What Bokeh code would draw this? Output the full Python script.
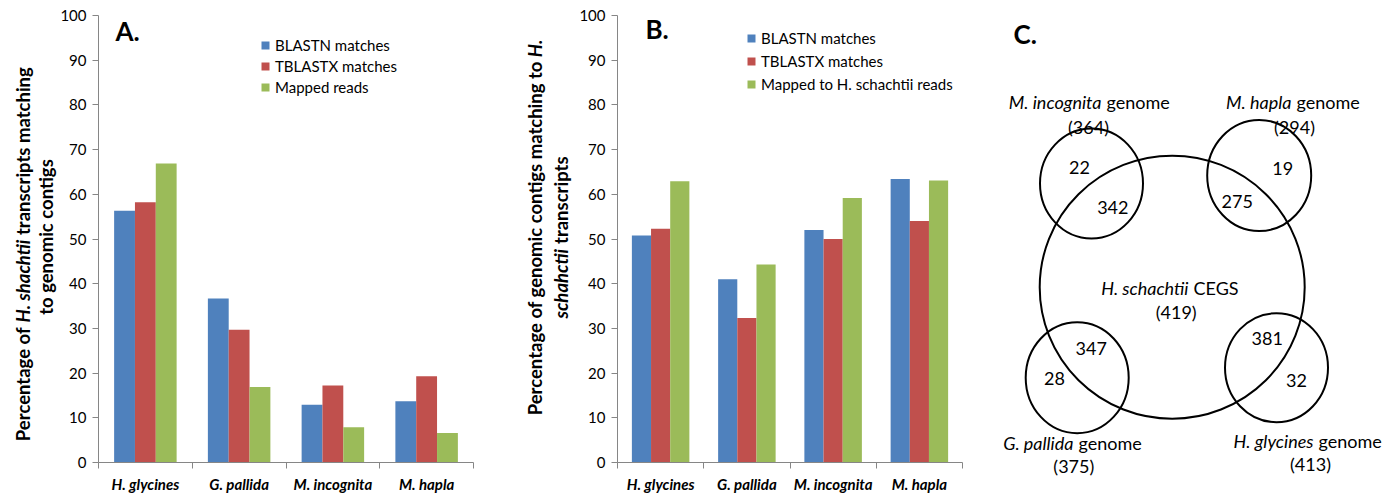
import math
from bokeh.plotting import figure
from bokeh.models import (ColumnDataSource, Range1d, FixedTicker, Label, LabelSet, Legend, LegendItem)
from bokeh.transform import dodge
from bokeh.layouts import row
from bokeh.embed import file_html
from bokeh.resources import INLINE
from bokeh.core.properties import value

# ---------------- data ----------------
categories = ["H. glycines", "G. pallida", "M. incognita", "M. hapla"]
series_names_a = ["BLASTN matches", "TBLASTX matches", "Mapped reads"]
series_names_b = ["BLASTN matches", "TBLASTX matches", "Mapped to H. schachtii reads"]
blastn_a = [56.3, 36.7, 12.9, 13.7]
tblastx_a = [58.2, 29.7, 17.2, 19.3]
mapped_a = [66.9, 16.9, 7.9, 6.6]
blastn_b = [50.8, 41.0, 52.0, 63.4]
tblastx_b = [52.3, 32.3, 50.0, 54.0]
mapped_b = [62.9, 44.3, 59.2, 63.1]
y_ticks = list(range(0, 101, 10))

venn_sets = ["M. incognita", "M. hapla", "G. pallida", "H. glycines"]
venn_set_totals = [364, 294, 375, 413]
venn_shared = [342, 275, 347, 381]
venn_unique = [22, 19, 28, 32]
venn_center_name = "H. schachtii"
venn_center_suffix = "CEGS"
venn_center_total = 419

# ---------------- style ----------------
FONT = "Lato"
COLORS = ["#4F81BD", "#C0504D", "#9BBB59"]
AXIS_GREY = "#868686"
H = 495
FRAME_TOP_REF = 15
FRAME_BOTTOM_REF = 465
V = math.pi / 2


def bar_panel(width, page_left_ref, frame_left_ref, frame_right_ref, series, names,
              legend_left_ref, legend_top_ref, legend_spacing):
    p = figure(width=width, height=H, output_backend="svg", toolbar_location=None, title=None,
               x_range=Range1d(0, len(categories)), y_range=Range1d(0, 100),
               min_border_left=frame_left_ref - page_left_ref,
               min_border_right=(page_left_ref + width) - frame_right_ref,
               min_border_top=FRAME_TOP_REF, min_border_bottom=H - FRAME_BOTTOM_REF)
    p.outline_line_color = None
    p.xgrid.visible = False
    p.ygrid.visible = False
    centers = [i + 0.5 for i in range(len(categories))]
    src = ColumnDataSource(dict(x=centers, s0=series[0], s1=series[1], s2=series[2]))
    bw = 1.0 / 4.5
    offsets = [-bw, 0.0, bw]
    items = []
    for k in range(3):
        r = p.vbar(x=dodge("x", offsets[k]), top="s%d" % k, bottom=0, width=bw, source=src,
                   fill_color=COLORS[k], line_color=None)
        items.append(LegendItem(label=names[k], renderers=[r]))

    item_h = 18
    leg_h = 3 * item_h + 2 * legend_spacing
    legend = Legend(items=items,
                    location=(legend_left_ref - frame_left_ref,
                              FRAME_BOTTOM_REF - legend_top_ref - leg_h),
                    padding=0, margin=0, spacing=legend_spacing,
                    glyph_width=10, glyph_height=10, label_standoff=5,
                    label_text_font=FONT, label_text_font_size="15px", label_text_color="black",
                    background_fill_alpha=0, border_line_color=None)
    p.add_layout(legend)

    # x axis: category labels at centres, separator ticks at boundaries
    xa = p.xaxis[0]
    xa.ticker = FixedTicker(ticks=centers, minor_ticks=list(range(len(categories) + 1)))
    xa.major_label_overrides = {c: n for c, n in zip(centers, categories)}
    xa.major_tick_out = 0
    xa.major_tick_in = 0
    xa.minor_tick_out = 6
    xa.minor_tick_in = 0
    xa.minor_tick_line_color = AXIS_GREY
    xa.axis_line_color = AXIS_GREY
    xa.major_label_text_font = FONT
    xa.major_label_text_font_size = "15px"
    xa.major_label_text_font_style = "bold italic"
    xa.major_label_text_color = "black"
    xa.major_label_standoff = 6

    ya = p.yaxis[0]
    ya.ticker = FixedTicker(ticks=y_ticks, minor_ticks=[])
    ya.major_tick_out = 6
    ya.major_tick_in = 0
    ya.major_tick_line_color = AXIS_GREY
    ya.axis_line_color = AXIS_GREY
    ya.major_label_text_font = FONT
    ya.major_label_text_font_size = "15px"
    ya.major_label_text_color = "black"
    ya.major_label_standoff = 6
    return p


def blank_panel(width, left_ref, top=FRAME_TOP_REF, bottom=FRAME_BOTTOM_REF):
    # 1 data unit = 1 px, data coordinates equal page pixel coordinates
    p = figure(width=width, height=H, output_backend="svg", toolbar_location=None, title=None,
               x_range=Range1d(left_ref, left_ref + width),
               y_range=Range1d(bottom, top),
               x_axis_location=None, y_axis_location=None,
               min_border_left=0, min_border_right=0,
               min_border_top=top, min_border_bottom=H - bottom)
    p.outline_line_color = None
    p.grid.visible = False
    return p


def lbl(p, x, y, text, size, style="normal", align="center", angle=0.0):
    p.add_layout(Label(x=x, y=y, text=text, angle=angle,
                       text_font=FONT, text_font_size=size, text_font_style=style,
                       text_align=align, text_baseline="middle", text_color="black"))


def panel_letter(p, frame_left_ref, x_ref, y_ref, text):
    p.add_layout(Label(x=x_ref - frame_left_ref, y=FRAME_BOTTOM_REF - y_ref,
                       x_units="screen", y_units="screen", text=text,
                       text_font=FONT, text_font_size="26px", text_font_style="bold",
                       text_align="left", text_baseline="middle", text_color="black"))


TS = "18.5px"
# ---------------- panel A ----------------
tA = blank_panel(57, 0)
lbl(tA, 22, 329, "Percentage of", TS, "bold", "right", V)
lbl(tA, 22, 324, "H. shachtii", TS, "bold italic", "left", V)
lbl(tA, 22, 236, "transcripts matching", TS, "bold", "left", V)
lbl(tA, 45, 238, "to genomic contigs", TS, "bold", "center", V)

pA = bar_panel(426, 57, 95, 473, [blastn_a, tblastx_a, mapped_a], series_names_a,
               257, 39, 3)
panel_letter(pA, 95, 112, 33, "A.")

# ---------------- panel B ----------------
tB = blank_panel(92, 483)
lbl(tB, 534, 61, "Percentage of genomic contigs matching to", TS, "bold", "right", V)
lbl(tB, 534, 57, "H.", TS, "bold italic", "left", V)
lbl(tB, 560, 250, "schahctii", TS, "bold italic", "right", V)
lbl(tB, 560, 245, "transcripts", TS, "bold", "left", V)

pB = bar_panel(405, 575, 617, 962, [blastn_b, tblastx_b, mapped_b], series_names_b,
               746, 32, 5)
panel_letter(pB, 617, 645, 31, "B.")

# ---------------- panel C (Venn) ----------------
pC = blank_panel(411, 980, 0, H)
try:
    pC.frame_align = False          # keep the full-canvas frame for the Venn panel
except Exception:
    pC.y_range = Range1d(FRAME_BOTTOM_REF, FRAME_TOP_REF)
    pC.min_border_top = FRAME_TOP_REF
    pC.min_border_bottom = H - FRAME_BOTTOM_REF

# circle layout (positions only): centre set, then M. incognita, M. hapla, G. pallida, H. glycines
circ_x = [1171.7, 1091.0, 1258.7, 1076.7, 1276.0]
circ_y = [286.7, 183.0, 175.0, 377.2, 367.2]
circ_w = [265, 103, 104, 103, 103]
circ_h = [263, 110, 111, 111, 109]
pC.ellipse(x=circ_x, y=circ_y, width=circ_w, height=circ_h,
           fill_color=None, line_color="black", line_width=2)

uniq_xy = [(1079, 167.3), (1282.3, 168.3), (1054, 377.7), (1296, 380)]
shared_xy = [(1112.3, 207.3), (1236.7, 201), (1090.7, 348.3), (1266.7, 338.3)]
name_split_xy = [(1101, 101.7), (1291, 101.7), (1073, 442.3), (1313, 440.7)]
total_xy = [(1088, 126), (1294, 126), (1073.3, 465), (1310, 463.3)]
center_split_xy = (1188, 287.3)
center_total_xy = (1175.7, 311.7)

FS = "18px"
num_src = ColumnDataSource(dict(
    x=[q[0] for q in uniq_xy] + [q[0] for q in shared_xy] + [q[0] for q in total_xy] + [center_total_xy[0]],
    y=[q[1] for q in uniq_xy] + [q[1] for q in shared_xy] + [q[1] for q in total_xy] + [center_total_xy[1]],
    t=[str(v) for v in venn_unique] + [str(v) for v in venn_shared]
      + ["(%d)" % v for v in venn_set_totals] + ["(%d)" % venn_center_total]))
pC.add_layout(LabelSet(x="x", y="y", text="t", source=num_src, text_font=value(FONT),
                       text_font_size=value(FS), text_align="center", text_baseline="middle",
                       text_color="black"))

ital_src = ColumnDataSource(dict(
    x=[q[0] for q in name_split_xy] + [center_split_xy[0]],
    y=[q[1] for q in name_split_xy] + [center_split_xy[1]],
    t=venn_sets + [venn_center_name]))
pC.add_layout(LabelSet(x="x", y="y", text="t", source=ital_src, text_font=value(FONT),
                       text_font_size=value(FS), text_font_style="italic", text_align="right",
                       text_baseline="middle", text_color="black"))

reg_src = ColumnDataSource(dict(
    x=[q[0] + 5 for q in name_split_xy] + [center_split_xy[0] + 5],
    y=[q[1] for q in name_split_xy] + [center_split_xy[1]],
    t=["genome"] * len(venn_sets) + [venn_center_suffix]))
pC.add_layout(LabelSet(x="x", y="y", text="t", source=reg_src, text_font=value(FONT),
                       text_font_size=value(FS), text_align="left",
                       text_baseline="middle", text_color="black"))

lbl(pC, 1013, 33, "C.", "26px", "bold", "left")

layout = row(tA, pA, tB, pB, pC, spacing=0)
open("out.html", "w").write(file_html(layout, INLINE))
